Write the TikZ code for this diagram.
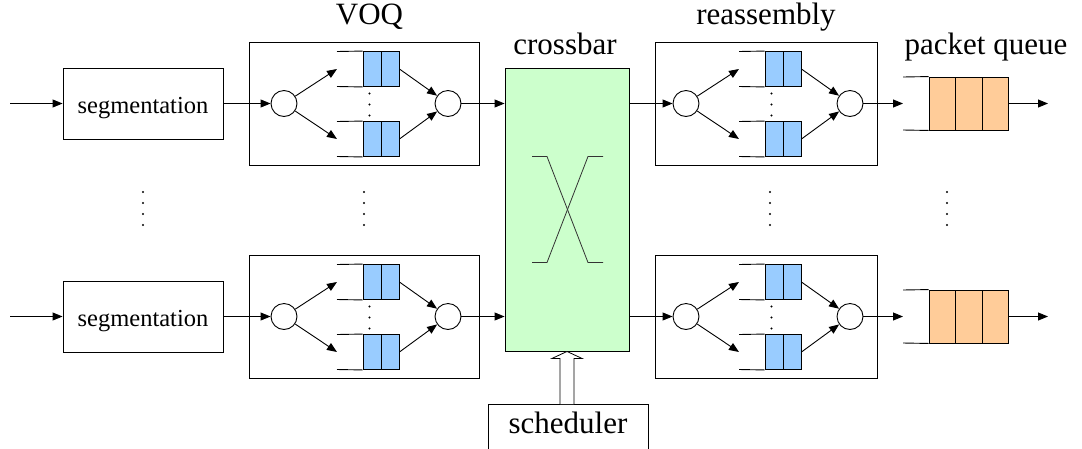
\documentclass[tikz,border=0pt]{standalone}
\usepackage{fontspec}
\IfFontExistsTF{LiberationSerif-Regular.ttf}
  {\newfontfamily\tnr{LiberationSerif-Regular.ttf}}
  {\newfontfamily\tnr{Latin Modern Roman}}
\usetikzlibrary{arrows.meta,calc}
\definecolor{cellblue}{HTML}{99CCFF}
\definecolor{cellorange}{HTML}{FFCC99}
\definecolor{xbargreen}{HTML}{CCFFCC}
\definecolor{xline}{HTML}{333333}

\begin{document}
\begin{tikzpicture}[x=1pt,y=-1pt,line width=0.9pt,
  >={Triangle[length=10pt,width=8pt]},
  segbox/.style={draw,minimum width=160pt,minimum height=71pt,inner sep=0pt,
    font=\tnr\fontsize{24.5}{28}\selectfont,text height=19pt,text depth=0pt},
  title/.style={anchor=base,inner sep=0pt,font=\tnr\fontsize{31}{36}\selectfont},
  port/.style={circle,draw,fill=white,minimum size=26pt,inner sep=0pt},
  cell/.style={draw,fill=cellblue,minimum width=18pt,minimum height=35pt,inner sep=0pt},
  pcell/.style={draw,fill=cellorange,minimum width=26.5pt,minimum height=53pt,inner sep=0pt},
  vdots/.pic={\foreach \k in {0,11,22,33} \fill (0,\k) circle (1.1pt);},
  % a block of two buffered queues between a splitter and a merger
  pics/qbox/.style 2 args={code={
    \draw (#1,-61) rectangle (#2,62);
    \node[port] (-in) at (0,0) {};
    \node[port] (-out) at (164,0) {};
    \node[cell] (-a1) at (88,-34.5) {};
    \node[cell] (-a2) at (106,-34.5) {};
    \node[cell] (-b1) at (88,35.5) {};
    \node[cell] (-b2) at (106,35.5) {};
    \draw (53,-52) -- (-a1.north west) (53,-17) -- (-a1.south west);
    \draw (53,18) -- (-b1.north west) (53,53) -- (-b1.south west);
    \coordinate (-ain) at (53,-34.5);
    \coordinate (-bin) at (53,35.5);
    \draw[->] (-in) -- (-ain);
    \draw[->] (-in) -- (-bin);
    \draw[->] (-a2.east) -- (-out);
    \draw[->] (-b2.east) -- (-out);
    \foreach \k in {-10,1,12} \fill (85.5,\k) circle (1.1pt);
  }},
  % output packet queue with three cells
  pics/pqueue/.style={code={
    \node[pcell] (-c1) at (39.25,0) {};
    \node[pcell] (-c2) at (65.75,0) {};
    \node[pcell] (-c3) at (92.25,0) {};
    \draw (0,-26.5) -- (-c1.north west) (0,26.5) -- (-c1.south west);
    \coordinate (-in) at (0,0);
    \coordinate (-out) at (-c3.east);
  }},
]
\useasboundingbox (0,0) rectangle (1082,448);

% column titles
\node[title] (tvoq) at (369.5,24) {VOQ};
\node[title] (txbar) at (565,54) {crossbar};
\node[title] (treasm) at (766,24) {reassembly};
\node[title] (tpq) at (986,54) {packet queue};

% crossbar switch
\node[draw,fill=xbargreen,minimum width=124pt,minimum height=283pt,inner sep=0pt]
  (xbar) at (567,209.5) {};
\draw[xline,line width=0.8pt] ($(xbar)+(-35,-53)$) -- ++(15,0) -- ($(xbar)+(21,53)$) -- ++(15,0);
\draw[xline,line width=0.8pt] ($(xbar)+(-35,53)$) -- ++(15,0) -- ($(xbar)+(21,-53)$) -- ++(15,0);

% two input/output lines
\foreach \r/\y in {1/103.5,2/316.5}{
  \coordinate (in\r) at (10,\y);
  \coordinate (out\r) at (1048,\y);
  \node[segbox] (seg\r) at (143,\y) {segmentation};
  \pic (voq\r) at (284,\y) {qbox={-35}{195}};
  \pic (reasm\r) at (686,\y) {qbox={-31}{191}};
  \pic (pq\r) at (903,\y) {pqueue};
  \draw[->] (in\r) -- (seg\r);
  \draw[->] (seg\r) -- (voq\r-in);
  \draw[->] (voq\r-out) -- (voq\r-out -| xbar.west);
  \draw[->] (reasm\r-in -| xbar.east) -- (reasm\r-in);
  \draw[->] (reasm\r-out) -- (pq\r-in);
  \draw[->] (pq\r-out) -- (out\r);
}

% ellipses between the lines
\pic at (143,192) {vdots};
\pic at (364,192) {vdots};
\pic at (770,192) {vdots};
\pic at (947,192) {vdots};

% scheduler driving the crossbar
\node[draw,minimum width=160pt,minimum height=50pt,inner sep=0pt,anchor=north,
  font=\tnr\fontsize{31}{36}\selectfont,text height=20pt,text depth=12pt]
  (sched) at (568,404) {scheduler};
\draw[fill=white,line width=0.8pt]
  ($(xbar.south |- sched.north)+(-7,0)$) -- ($(xbar.south)+(-7,7)$)
  -- ($(xbar.south)+(-15,7)$) -- (xbar.south) -- ($(xbar.south)+(15,7)$)
  -- ($(xbar.south)+(7,7)$) -- ($(xbar.south |- sched.north)+(7,0)$);
\end{tikzpicture}
\end{document}
